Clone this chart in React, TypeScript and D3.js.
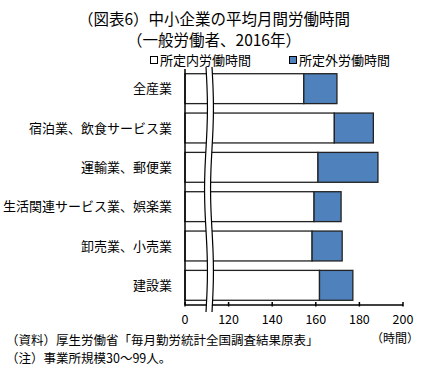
import * as d3 from "d3";
import React, { useRef, useEffect } from "react";

const width = 431;
const height = 372;

const margin = { top: 69, right: 27, bottom: 67, left: 185 };
const bodyWidth = width - (margin.left + margin.right);
const bodyHeight = height - (margin.top + margin.bottom);

const categories = [
  "全産業",
  "宿泊業、飲食サービス業",
  "運輸業、郵便業",
  "生活関連サービス業、娯楽業",
  "卸売業、小売業",
  "建設業",
];
// 所定内労働時間 (hours)
const scheduled = [154.5, 168.5, 161, 159.2, 158.3, 161.7];
// 所定外労働時間 (hours)
const overtime = [15.2, 17.9, 27.5, 12.4, 13.8, 15.3];

const tickValues = [100, 120, 140, 160, 180, 200];
const tickLabels = ["0", "120", "140", "160", "180", "200"];
const seriesNames = ["所定内労働時間", "所定外労働時間"];
const seriesColors = ["#ffffff", "#4f81bd"];

// axis is broken: everything below 100 is squeezed into the first gap
const axisBreak = 100;

const font = "'Noto Sans CJK JP', 'Noto Sans', sans-serif";

const App = () => {
  const ref = useRef(null);

  useEffect(() => {
    const svg = d3.select(ref.current);
    svg.selectAll("*").remove();

    const xScale = d3
      .scaleLinear()
      .domain([axisBreak, 200])
      .range([0, bodyWidth - 1]);
    const xPos = (v) => xScale(Math.max(v, axisBreak));
    const yScale = d3
      .scaleBand()
      .domain(categories)
      .range([0, bodyHeight])
      .paddingInner(0.24)
      .paddingOuter(0.12);

    // titles
    const titles = ["（図表6）中小企業の平均月間労働時間", "（一般労働者、2016年）"];
    svg
      .selectAll(".title")
      .data(titles)
      .join("text")
      .attr("class", "title")
      .attr("x", 214)
      .attr("y", (_, i) => 25 + i * 21)
      .attr("text-anchor", "middle")
      .style("font-family", font)
      .style("font-size", "15.5px")
      .attr("fill", "#000")
      .text((d) => d);

    // legend
    const legend = svg
      .append("g")
      .selectAll("g")
      .data(seriesNames)
      .join("g")
      .attr("transform", (_, i) => `translate(${150 + i * 139}, 60)`);
    legend
      .append("rect")
      .attr("x", 0.5)
      .attr("y", -3.5)
      .attr("width", 7)
      .attr("height", 7)
      .attr("fill", (_, i) => seriesColors[i])
      .attr("stroke", "#000")
      .attr("stroke-width", 1);
    legend
      .append("text")
      .attr("x", 10)
      .attr("y", 4.5)
      .style("font-family", font)
      .style("font-size", "13px")
      .text((d) => d);

    const main = svg
      .append("g")
      .attr("transform", `translate(${margin.left}, ${margin.top})`);

    // bars
    const rows = main
      .selectAll(".bar")
      .data(categories)
      .join("g")
      .attr("class", "bar");

    rows
      .append("rect")
      .attr("x", xPos(0))
      .attr("y", (d) => yScale(d))
      .attr("width", (_, i) => xPos(scheduled[i]) - xPos(0))
      .attr("height", yScale.bandwidth())
      .attr("fill", seriesColors[0])
      .attr("stroke", "#222")
      .attr("stroke-width", 1.3);

    rows
      .append("rect")
      .attr("x", (_, i) => xPos(scheduled[i]))
      .attr("y", (d) => yScale(d))
      .attr("width", (_, i) => xPos(scheduled[i] + overtime[i]) - xPos(scheduled[i]))
      .attr("height", yScale.bandwidth())
      .attr("fill", seriesColors[1])
      .attr("stroke", "#222")
      .attr("stroke-width", 1.3);

    // category labels
    main
      .selectAll(".cat")
      .data(categories)
      .join("text")
      .attr("class", "cat")
      .attr("x", -13)
      .attr("y", (d) => yScale(d) + yScale.bandwidth() / 2 + 4.5)
      .attr("text-anchor", "end")
      .style("font-family", font)
      .style("font-size", "13px")
      .text((d) => d);

    // y axis
    main
      .append("line")
      .attr("x1", 0)
      .attr("x2", 0)
      .attr("y1", 0)
      .attr("y2", bodyHeight)
      .attr("stroke", "#000")
      .attr("stroke-width", 1.5);

    // x axis
    const xAxis = main.append("g").attr("transform", `translate(0, ${bodyHeight})`);
    xAxis
      .append("line")
      .attr("x1", 0)
      .attr("x2", xScale(200))
      .attr("stroke", "#000")
      .attr("stroke-width", 1.5);
    xAxis
      .selectAll(".tick")
      .data(tickValues)
      .join("line")
      .attr("class", "tick")
      .attr("x1", (d) => xScale(d))
      .attr("x2", (d) => xScale(d))
      .attr("y1", -3)
      .attr("y2", 1.5)
      .attr("stroke", "#000")
      .attr("stroke-width", 1.5);
    xAxis
      .selectAll(".tlabel")
      .data(tickValues)
      .join("text")
      .attr("class", "tlabel")
      .attr("x", (d) => xScale(d))
      .attr("y", 19)
      .attr("text-anchor", "middle")
      .style("font-family", font)
      .style("font-size", "12.5px")
      .text((_, i) => tickLabels[i]);
    xAxis
      .append("text")
      .attr("x", xScale(200) - 8)
      .attr("y", 38)
      .attr("text-anchor", "middle")
      .style("font-family", font)
      .style("font-size", "12px")
      .text("（時間）");

    // break marker
    const wave = d3
      .line()
      .x((d) => d[0])
      .y((d) => d[1])
      .curve(d3.curveBasis);
    const steps = d3.range(0, 13);
    const makeWave = (x0) =>
      steps.map((s) => [
        x0 + 1.6 * Math.sin((s / 12) * Math.PI * 3),
        -2 + (s / 12) * (bodyHeight + 9),
      ]);
    const bx1 = 21;
    const bx2 = 27;
    const left = makeWave(bx1);
    const right = makeWave(bx2);
    main
      .append("path")
      .attr("d", wave(left.concat(right.slice().reverse())) + "Z")
      .attr("fill", "#fff")
      .attr("stroke", "none");
    [left, right].forEach((pts) => {
      main
        .append("path")
        .attr("d", wave(pts))
        .attr("fill", "none")
        .attr("stroke", "#000")
        .attr("stroke-width", 1.2);
    });

    // notes
    const notes = [
      "（資料）厚生労働省「毎月勤労統計全国調査結果原表」",
      "（注）事業所規模30～99人。",
    ];
    svg
      .selectAll(".note")
      .data(notes)
      .join("text")
      .attr("class", "note")
      .attr("x", 6)
      .attr("y", (_, i) => 345 + i * 18)
      .style("font-family", font)
      .style("font-size", "12.5px")
      .text((d) => d);
  }, []);

  return (
    <svg
      ref={ref}
      width={width}
      height={height}
      style={{ position: "absolute", left: 0, top: 0, background: "#fff" }}
    ></svg>
  );
};

export default App;
